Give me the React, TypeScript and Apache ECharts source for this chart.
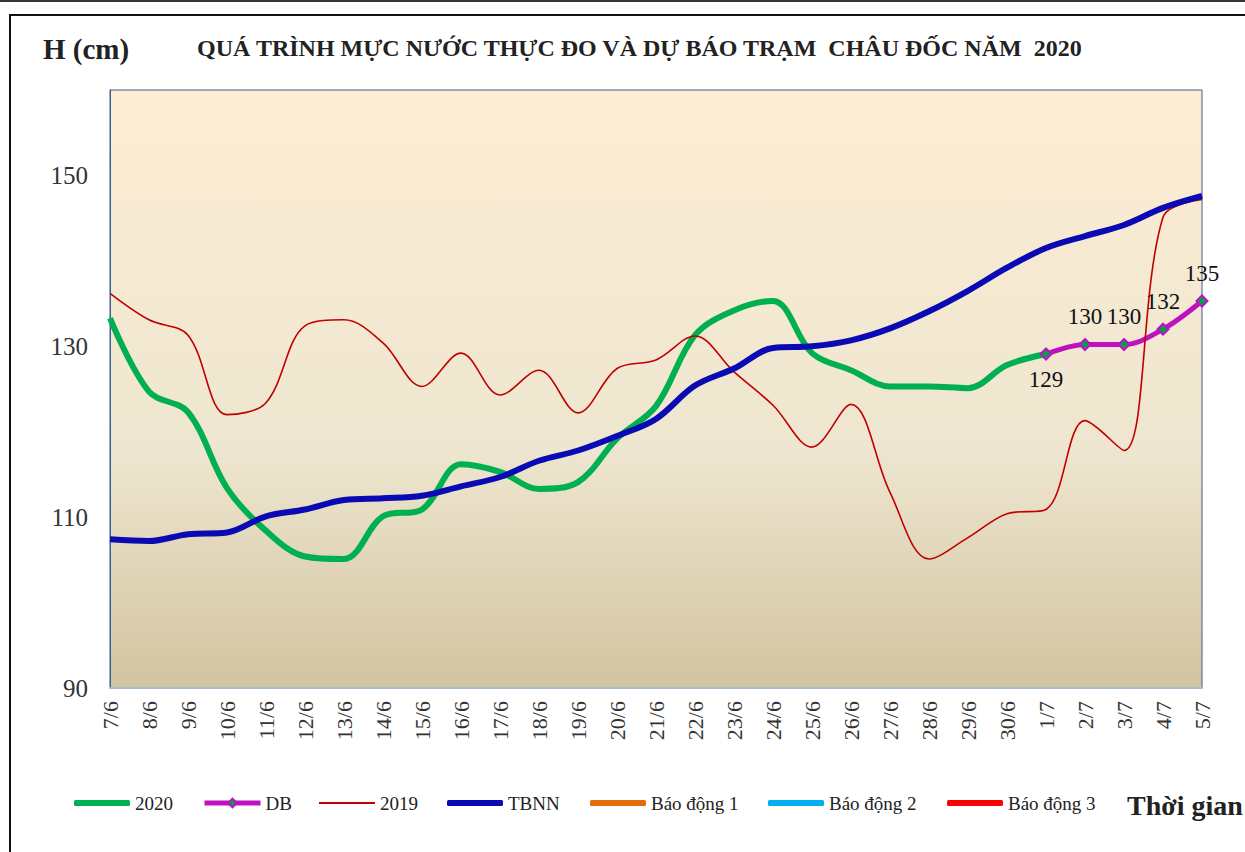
import React, { useEffect, useRef } from "react";
import * as echarts from "echarts";

const categories = [
  "7/6", "8/6", "9/6", "10/6", "11/6", "12/6", "13/6", "14/6", "15/6", "16/6",
  "17/6", "18/6", "19/6", "20/6", "21/6", "22/6", "23/6", "24/6", "25/6", "26/6",
  "27/6", "28/6", "29/6", "30/6", "1/7", "2/7", "3/7", "4/7", "5/7",
];

const values2020 = [
  133.3, 124.7, 122.3, 113.4, 108.4, 105.4, 105.1, 110.1, 110.9, 116.2,
  115.3, 113.3, 114.1, 119.2, 123.0, 131.3, 134.2, 135.3, 129.2, 127.2,
  125.3, 125.3, 125.1, 127.8, 129.1,
];

const valuesDB = [129.1, 130.2, 130.2, 132.0, 135.3];
const dbStartIndex = 24;

const values2019 = [
  136.2, 133.1, 131.3, 122.0, 123.4, 132.4, 133.1, 130.4, 125.3, 129.2,
  124.3, 127.2, 122.2, 127.4, 128.4, 131.2, 127.0, 123.1, 118.2, 123.2,
  112.9, 105.1, 107.6, 110.4, 110.9, 121.3, 117.8, 145.1, 147.2,
];

const valuesTBNN = [
  107.4, 107.2, 108.0, 108.2, 110.1, 110.9, 112.0, 112.2, 112.5, 113.6,
  114.7, 116.6, 117.8, 119.5, 121.5, 125.4, 127.4, 129.8, 130.0, 130.7,
  132.1, 134.1, 136.5, 139.2, 141.5, 142.9, 144.2, 146.2, 147.6,
];

const yTicks = { min: 90, max: 160, interval: 20 };

const SERIF = "'Liberation Serif', 'DejaVu Serif', serif";
const SMOOTH = 0.35;

export default function App() {
  const ref = useRef<HTMLDivElement>(null);

  useEffect(() => {
    if (!ref.current) return;
    const chart = echarts.init(ref.current, null, { renderer: "svg" });

    const dbData: any[] = categories.map((_, i) => {
      const k = i - dbStartIndex;
      if (k < 0 || k >= valuesDB.length) return null;
      return k === 0
        ? { value: valuesDB[k], label: { position: "bottom", distance: 8 } }
        : valuesDB[k];
    });

    const legendItem = (name: string, left: number, icon: string | undefined, h: number, extra: any = {}) => ({
      show: true,
      data: [icon ? { name, icon } : { name }],
      left,
      top: 803 - 12,
      height: 24,
      itemWidth: 56,
      itemHeight: h,
      itemGap: 0,
      padding: 0,
      textStyle: { fontFamily: SERIF, fontSize: 19, color: "#222", lineHeight: 24 },
      ...extra,
    });

    chart.setOption({
      animation: false,
      backgroundColor: "#ffffff",
      title: [
        {
          text: "H (cm)",
          left: 43,
          top: 34,
          padding: 0,
          textStyle: { fontFamily: SERIF, fontSize: 29, fontWeight: "bold", color: "#222" },
        },
        {
          text: "QUÁ TRÌNH MỰC NƯỚC THỰC ĐO VÀ DỰ BÁO TRẠM  CHÂU ĐỐC NĂM  2020",
          left: 197,
          top: 36,
          padding: 0,
          textStyle: { fontFamily: SERIF, fontSize: 24, fontWeight: "bold", color: "#222" },
        },
      ],
      legend: [
        legendItem("2020", 74, "roundRect", 6),
        legendItem("DB", 202, undefined, 11, { lineStyle: { width: 5 } }),
        legendItem("2019", 319, "rect", 2),
        legendItem("TBNN", 447, "roundRect", 6),
        legendItem("Báo động 1", 590, "roundRect", 6),
        legendItem("Báo động 2", 768, "roundRect", 6),
        legendItem("Báo động 3", 947, "roundRect", 6),
      ],
      graphic: [
        {
          type: "line",
          shape: { x1: 0, y1: 1, x2: 1245, y2: 1 },
          style: { stroke: "#333", lineWidth: 2 },
          silent: true,
        },
        {
          type: "rect",
          shape: { x: 10, y: 15, width: 1300, height: 900 },
          style: { stroke: "#111", lineWidth: 2, fill: "none" },
          silent: true,
        },
        {
          type: "text",
          x: 1127,
          y: 805,
          style: {
            text: "Thời gian",
            fontFamily: SERIF,
            fontSize: 28,
            fontWeight: "bold",
            fill: "#222",
            verticalAlign: "middle",
          },
          silent: true,
        },
      ],
      grid: {
        left: 110,
        right: 43,
        top: 90,
        bottom: 164,
        show: true,
        borderColor: "#3a5f8f",
        borderWidth: 1,
        backgroundColor: new echarts.graphic.LinearGradient(0, 0, 0, 1, [
          { offset: 0, color: "#fdedd3" },
          { offset: 0.6, color: "#eee6d0" },
          { offset: 1, color: "#d3c4a0" },
        ]),
      },
      xAxis: {
        type: "category",
        data: categories,
        boundaryGap: false,
        axisLine: { show: true, lineStyle: { color: "#a9b9cf", width: 2 } },
        axisTick: { show: false },
        splitLine: { show: false },
        axisLabel: {
          rotate: 90,
          interval: 0,
          margin: 13,
          fontFamily: SERIF,
          fontSize: 22,
          color: "#333",
        },
      },
      yAxis: {
        type: "value",
        min: yTicks.min,
        max: yTicks.max,
        interval: yTicks.interval,
        axisLine: { show: true, lineStyle: { color: "#3a5f8f", width: 1 } },
        axisTick: { show: false },
        splitLine: { show: false },
        axisLabel: {
          showMaxLabel: false,
          margin: 22,
          fontFamily: SERIF,
          fontSize: 25,
          color: "#333",
        },
      },
      series: [
        {
          name: "2020",
          type: "line",
          data: values2020,
          smooth: SMOOTH,
          symbol: "none",
          lineStyle: { color: "#00b050", width: 6 },
          itemStyle: { color: "#00b050" },
        },
        {
          name: "DB",
          type: "line",
          data: dbData,
          smooth: SMOOTH,
          symbol: "diamond",
          symbolSize: 11,
          lineStyle: { color: "#c010c0", width: 5 },
          itemStyle: { color: "#00a050", borderColor: "#c010c0", borderWidth: 2 },
          label: {
            show: true,
            position: "top",
            distance: 10,
            fontFamily: SERIF,
            fontSize: 23,
            color: "#111",
            formatter: (p: any) => String(Math.round(p.value)),
          },
        },
        {
          name: "2019",
          type: "line",
          data: values2019,
          smooth: SMOOTH,
          symbol: "none",
          lineStyle: { color: "#c00000", width: 1.6 },
          itemStyle: { color: "#c00000" },
        },
        {
          name: "TBNN",
          type: "line",
          data: valuesTBNN,
          smooth: SMOOTH,
          symbol: "none",
          lineStyle: { color: "#0a0ab4", width: 6 },
          itemStyle: { color: "#0a0ab4" },
        },
        {
          name: "Báo động 1",
          type: "line",
          data: [],
          symbol: "none",
          lineStyle: { color: "#e46c0a", width: 6 },
          itemStyle: { color: "#e46c0a" },
        },
        {
          name: "Báo động 2",
          type: "line",
          data: [],
          symbol: "none",
          lineStyle: { color: "#00b0f0", width: 6 },
          itemStyle: { color: "#00b0f0" },
        },
        {
          name: "Báo động 3",
          type: "line",
          data: [],
          symbol: "none",
          lineStyle: { color: "#ff0000", width: 6 },
          itemStyle: { color: "#ff0000" },
        },
      ],
    });

    return () => chart.dispose();
  }, []);

  return (
    <div
      ref={ref}
      style={{ position: "absolute", left: 0, top: 0, width: 1245, height: 852 }}
    />
  );
}
